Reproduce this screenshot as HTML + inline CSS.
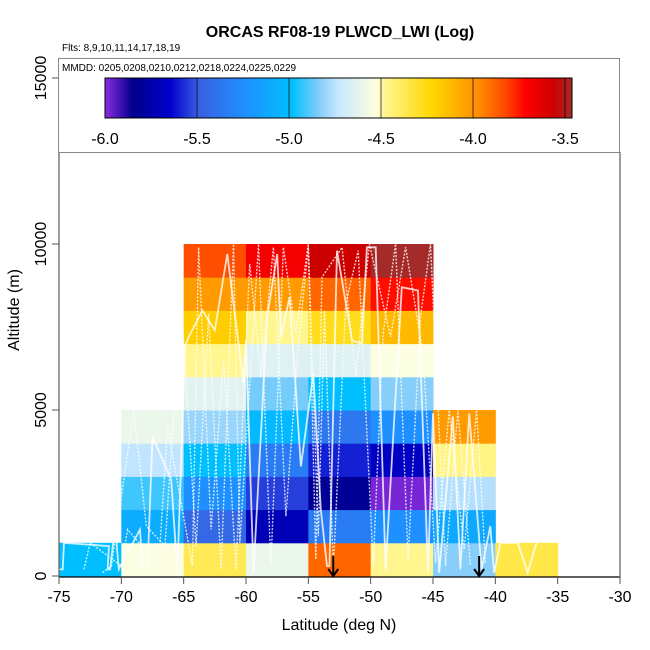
<!DOCTYPE html>
<html><head><meta charset="utf-8"><style>
body{margin:0;background:#fff}
svg{display:block;font-family:"Liberation Sans",Arial,sans-serif}
</style></head><body>
<svg id="chart" width="650" height="650" viewBox="0 0 650 650" xmlns="http://www.w3.org/2000/svg">
<defs>
<linearGradient id="cmap" x1="0" x2="1" y1="0" y2="0">
<stop offset="0" stop-color="#8A2BE2"/><stop offset="0.06" stop-color="#00008B"/>
<stop offset="0.14" stop-color="#0000CD"/><stop offset="0.2" stop-color="#3A5FE0"/>
<stop offset="0.3" stop-color="#1E90FF"/><stop offset="0.4" stop-color="#00BFFF"/>
<stop offset="0.46" stop-color="#87CEFA"/>
<stop offset="0.5" stop-color="#C8E8FF"/><stop offset="0.58" stop-color="#FFFFE0"/>
<stop offset="0.6" stop-color="#FFF68F"/><stop offset="0.7" stop-color="#FFD700"/>
<stop offset="0.8" stop-color="#FF8C00"/><stop offset="0.86" stop-color="#FF4500"/>
<stop offset="0.9" stop-color="#FF0000"/><stop offset="0.96" stop-color="#CD0000"/>
<stop offset="1" stop-color="#A52A2A"/>
</linearGradient>
</defs>
<text x="340" y="37" text-anchor="middle" font-size="16" font-weight="bold">ORCAS RF08-19 PLWCD_LWI (Log)</text>
<text x="62" y="51" font-size="10">Flts: 8,9,10,11,14,17,18,19</text>
<g id="cells"></g>
<g id="tracks"></g>
<g id="axes"></g>
<g>
<rect x="58.5" y="58.5" width="561" height="94" fill="#fff" stroke="#888" stroke-width="1"/>
<text x="62" y="71" font-size="10">MMDD: 0205,0208,0210,0212,0218,0224,0225,0229</text>
<rect x="105" y="78" width="467" height="40" fill="url(#cmap)" stroke="#000" stroke-width="1"/>
<g id="cbticks"></g>
</g>
<text x="339" y="630" text-anchor="middle" font-size="16">Latitude (deg N)</text>
<text transform="translate(19,310) rotate(-90)" text-anchor="middle" font-size="16">Altitude (m)</text>
</svg>
<script>
const latBins = [-75,-70,-65,-60,-55,-50,-45,-40];
const altBins = [0,1000,2000,3000,4000,5000,6000,7000,8000,9000];
// log values per column (lat bin), index = altitude row from bottom
const col0 = [-5.0];
const col1 = [-4.56,-5.1,-4.93,-4.76,-4.62];
const col2 = [-4.4,-5.45,-5.25,-5.0,-4.82,-4.66,-4.5,-4.22,-4.05,-3.87];
const col3 = [-4.62,-5.72,-5.55,-5.35,-5.03,-4.87,-4.67,-4.5,-4.05,-3.72];
const col4 = [-3.92,-5.35,-5.82,-5.6,-5.38,-5.0,-4.67,-4.3,-3.92,-3.6];
const col5 = [-4.5,-5.25,-5.98,-5.68,-5.25,-4.85,-4.56,-4.15,-3.77,-3.5];
const col6 = [-4.85,-5.12,-4.78,-4.48,-4.05];
const col7 = [-4.38];
const cellValues = [col0,col1,col2,col3,col4,col5,col6,col7];
const xTicks = [-75,-70,-65,-60,-55,-50,-45,-40,-35,-30];
const yTicks = [0,5000,10000,15000];
const cbTicks = [-6.0,-5.5,-5.0,-4.5,-4.0,-3.5];
const arrowLats = [-53.0,-41.3];
const track1Lat = [-75,-74.7,-74.6,-71,-71.1,-70.9,-70.5,-70.2,-68.5,-68.3,-67.9,-67.5,-66,-65.5,-64.9,-64.6,-63.5,-62.5,-61.5,-60.2,-60,-59.4,-58.3,-57.5,-57.2,-56.5,-55.6,-54.6,-54,-53.5,-53.3,-52.7,-51.5,-50.7,-50.3,-49.6,-48.8,-47.5,-46.2,-45.4,-45,-44.5,-43.4,-42.8,-42.1,-41.1,-40.4,-40.1,-39.6,-38.2,-37.4,-36.7];
const track1Alt = [200,200,1000,900,200,200,1500,200,1400,200,200,4200,2900,100,6900,7200,8000,7400,9700,5800,7100,100,7800,9700,7200,8400,3300,6100,2000,300,300,9800,7100,7000,9900,9900,200,8700,8600,100,4900,100,4800,200,4900,200,1500,100,1000,1000,100,1000];
const track2Lat = [-71.5,-70.8,-69,-68,-66.5,-65.2,-64,-63,-62,-61,-60.5,-59,-58,-57,-56,-55,-54.2,-53.7,-53,-52,-51,-49.8,-49,-48,-47,-46,-45.2,-44,-43,-42];
const track2Alt = [100,300,5000,1500,900,8300,900,7900,200,10000,1000,10000,300,9900,7300,10000,1200,8000,200,8200,9800,300,7300,10000,500,7800,10000,300,5000,300];
const track3Lat = [-73,-72.5,-70,-69.5,-67,-66.3,-64.3,-63.8,-62.8,-61.8,-60.8,-59.7,-58.8,-57.8,-56.8,-55.8,-55,-54.4,-53.9,-52.3,-51.2,-50.1,-48.4,-47.2,-45.8,-44.8,-43.7,-42.5,-41.5,-40.8];
const track3Alt = [200,1000,300,1400,300,4500,300,9900,1400,6500,200,9400,6000,9900,1800,7000,9900,500,9000,9900,6000,10000,7200,9900,6700,400,5000,800,5000,400];
const tracksLat = [track1Lat,track2Lat,track3Lat];
const tracksAlt = [track1Alt,track2Alt,track3Alt];
const stops=[[-6,[138,43,226]],[-5.85,[0,0,139]],[-5.65,[0,0,205]],[-5.5,[58,95,224]],[-5.25,[30,144,255]],[-5,[0,191,255]],[-4.85,[135,206,250]],[-4.75,[200,232,255]],[-4.55,[255,255,224]],[-4.5,[255,246,143]],[-4.25,[255,215,0]],[-4,[255,140,0]],[-3.85,[255,69,0]],[-3.75,[255,0,0]],[-3.6,[205,0,0]],[-3.5,[165,42,42]]];
function color(v){
  for(let i=0;i<stops.length-1;i++){const a=stops[i],b=stops[i+1];
    if(v<=b[0]||i==stops.length-2){let t=Math.max(0,Math.min(1,(v-a[0])/(b[0]-a[0])));
      return 'rgb('+a[1].map((c,k)=>Math.round(c+(b[1][k]-c)*t)).join(',')+')';}}
}
const X = lat => 59 + (lat+75)*(561/45);
const Y = alt => 576 - alt*(498/15000);
const CB = v => 105 + (v+6)*184;
const NS='http://www.w3.org/2000/svg';
function mk(tag,attrs,parent){const e=document.createElementNS(NS,tag);for(const k in attrs)e.setAttribute(k,attrs[k]);parent.appendChild(e);return e;}
const cells=document.getElementById('cells');
cellValues.forEach((col,i)=>{col.forEach((v,j)=>{if(v==null)return;
  const r=mk('rect',{x:X(latBins[i]),y:Y(altBins[j]+1000),width:X(latBins[i]+5)-X(latBins[i])+0.5,height:Y(altBins[j])-Y(altBins[j]+1000)+0.5,fill:color(v)},cells);
  
  
});});
const tr=document.getElementById('tracks');
tracksLat.forEach((lats,k)=>{
  let d='';lats.forEach((la,i)=>{d+=(i?'L':'M')+X(la).toFixed(1)+','+Y(tracksAlt[k][i]).toFixed(1);});
  const p=mk('path',{d:d,fill:'none',stroke:'#fff','stroke-width':k==0?1.8:1.4,'stroke-opacity':0.8,'stroke-dasharray':k==0?'none':'2,1.5'},tr);
  
  
});
const ax=document.getElementById('axes');
mk('line',{x1:59,y1:577,x2:620,y2:577,stroke:'#000','stroke-width':1.3},ax);
mk('line',{x1:59,y1:78,x2:59,y2:577,stroke:'#666','stroke-width':1.3},ax);
mk('line',{x1:620,y1:152,x2:620,y2:577,stroke:'#666','stroke-width':1.3},ax);
xTicks.forEach(t=>{mk('line',{x1:X(t),y1:577,x2:X(t),y2:584,stroke:'#555'},ax);
  const tx=mk('text',{x:X(t),y:602,'text-anchor':'middle','font-size':16},ax);tx.textContent=t;
  
  });
yTicks.forEach(t=>{mk('line',{x1:52,y1:Y(t),x2:59,y2:Y(t),stroke:'#555'},ax);
  const tx=mk('text',{transform:'translate(46,'+Y(t)+') rotate(-90)','text-anchor':'middle','font-size':16},ax);tx.textContent=t;
  
  });
arrowLats.forEach(la=>{const g=mk('g',{},ax);
  
  
  mk('line',{x1:X(la),y1:556,x2:X(la),y2:576,stroke:'#000','stroke-width':2},g);
  mk('path',{d:'M'+(X(la)-5)+',569L'+X(la)+',576L'+(X(la)+5)+',569',fill:'none',stroke:'#000','stroke-width':2},g);});
const cb=document.getElementById('cbticks');
cbTicks.forEach(t=>{mk('line',{x1:CB(t),y1:78,x2:CB(t),y2:118,stroke:'#000','stroke-width':1,'stroke-opacity':0.7},cb);
  const tx=mk('text',{x:CB(t),y:144,'text-anchor':'middle','font-size':16},cb);tx.textContent=t.toFixed(1);
  
  });
</script>
</body></html>
